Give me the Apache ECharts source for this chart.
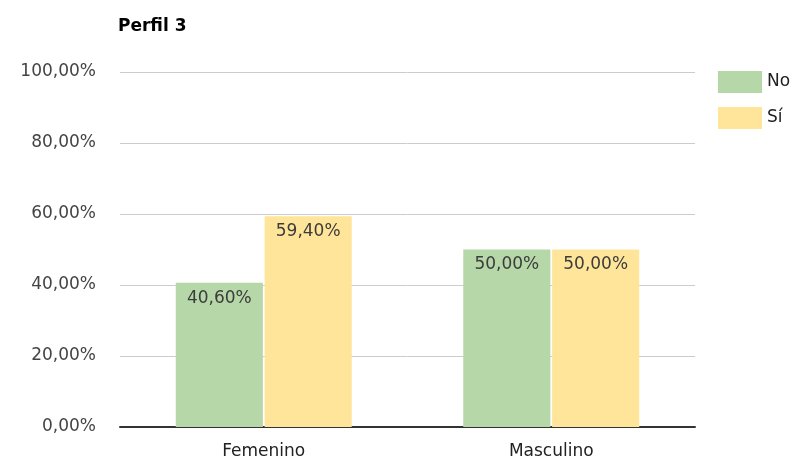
<!DOCTYPE html>
<html><head><meta charset="utf-8">
<script src="https://cdn.jsdelivr.net/npm/echarts@6/dist/echarts.min.js"></script>
<style>html,body{margin:0;padding:0;background:#fff}#c{width:798px;height:462px}</style>
</head><body><div id="c"></div>
<script>
const title = 'Perfil 3';
const categories = ['Femenino', 'Masculino'];
const seriesNames = ['No', 'Sí'];
const noValues = [40.6, 50.0];
const siValues = [59.4, 50.0];
const yTicks = [0, 20, 40, 60, 80, 100];

const FONT = 'DejaVu Sans';
const fmt = v => v.toFixed(2).replace('.', ',') + '%';
const chart = echarts.init(document.getElementById('c'));
const labelStyle = {show: true, position: 'insideTop', distance: 7, color: '#3c3c3c', fontSize: 17, fontFamily: FONT, formatter: p => fmt(p.value)};
chart.setOption({
  animation: false,
  textStyle: {fontFamily: FONT},
  title: {text: title, left: 113, top: 13, textStyle: {fontSize: 17, fontWeight: 'bold', color: '#000', fontFamily: FONT}},
  legend: {orient: 'vertical', left: 713, top: 66, itemWidth: 44, itemHeight: 22, itemGap: 14,
    textStyle: {fontSize: 17, color: '#222', fontFamily: FONT}, icon: 'rect', data: seriesNames},
  grid: {left: 120, right: 103, top: 72, bottom: 35},
  xAxis: {type: 'category', data: categories, axisTick: {show: false},
    axisLine: {lineStyle: {color: '#333', width: 2}},
    axisLabel: {fontSize: 17, color: '#222', margin: 16, fontFamily: FONT}},
  yAxis: {type: 'value', min: 0, max: 100, interval: 20,
    axisLabel: {fontSize: 17, color: '#444', margin: 24, fontFamily: FONT, formatter: v => fmt(v)},
    splitLine: {lineStyle: {color: '#ccc', width: 1}}},
  series: [
    {name: seriesNames[0], type: 'bar', data: noValues, barWidth: '30.3%', barGap: '2%',
     itemStyle: {color: '#b6d7a8'}, label: labelStyle},
    {name: seriesNames[1], type: 'bar', data: siValues, barWidth: '30.3%',
     itemStyle: {color: '#ffe599'}, label: labelStyle}
  ]
});
</script></body></html>
